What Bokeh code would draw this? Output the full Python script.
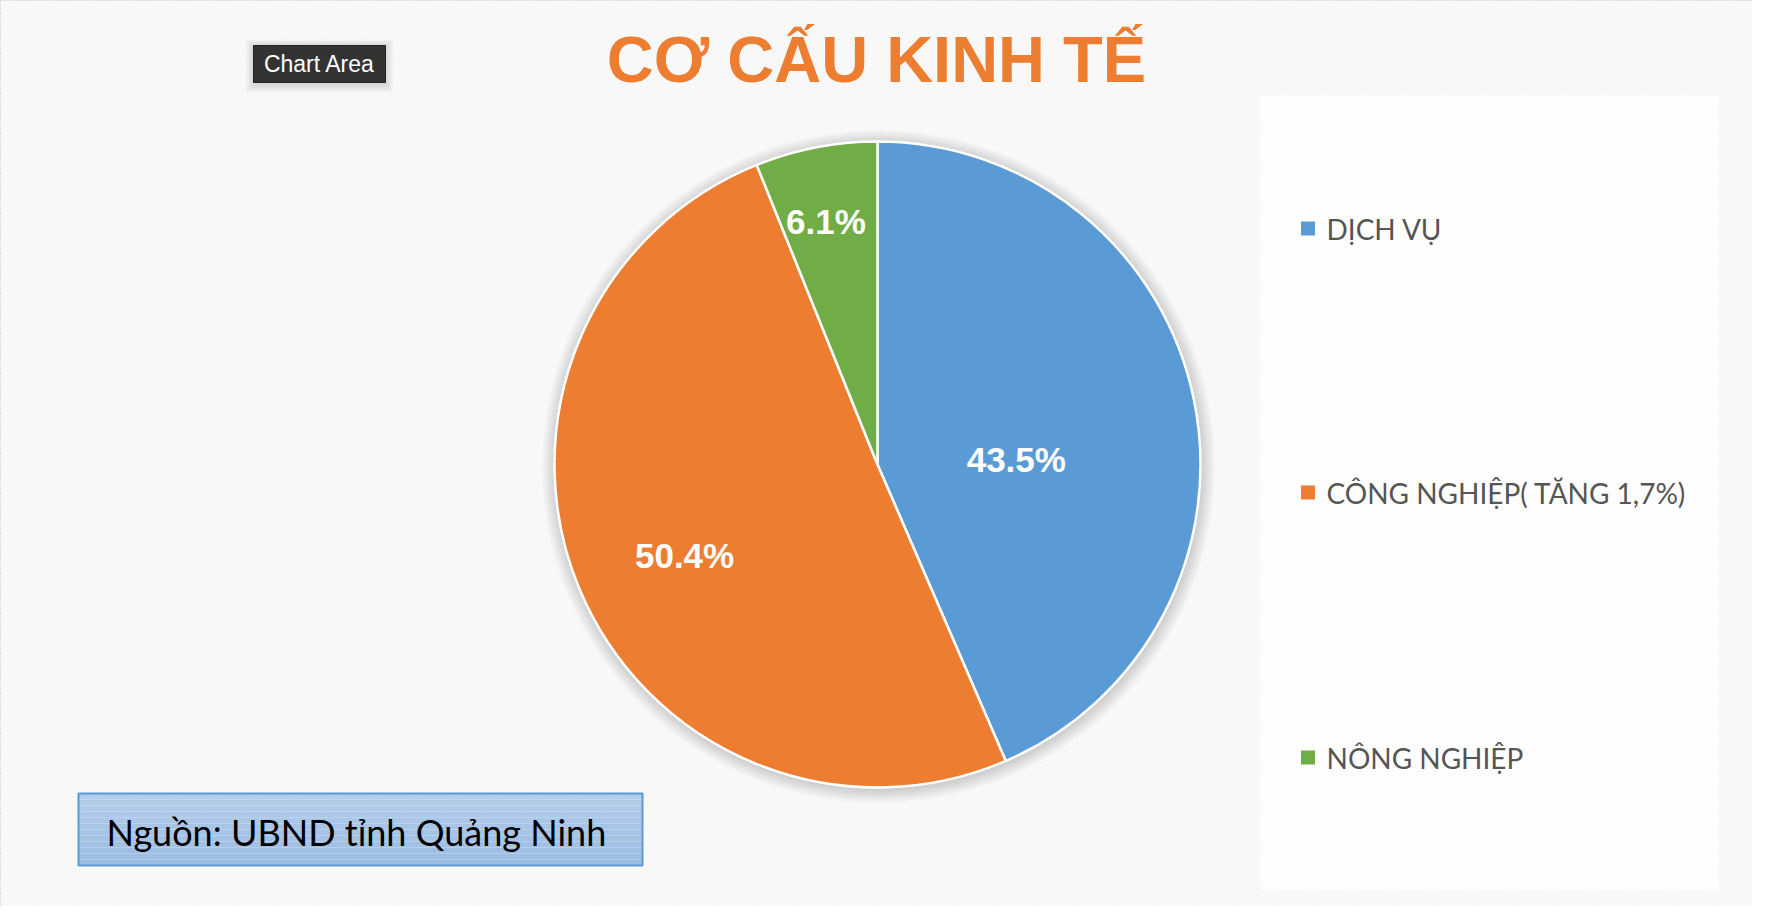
import numpy as np
from bokeh.plotting import figure
from bokeh.models import ColumnDataSource, Range1d
from bokeh.core.properties import value
from bokeh.embed import file_html
from bokeh.resources import INLINE

# ---------------- data ----------------
title_text = "CƠ CẤU KINH TẾ"
categories = ["DỊCH VỤ", "CÔNG NGHIỆP( TĂNG 1,7%)", "NÔNG NGHIỆP"]
shares = [43.5, 50.4, 6.1]
colors = ["#5B9BD5", "#ED7D31", "#70AD47"]
source_note = "Nguồn: UBND tỉnh Quảng Ninh"
tooltip_text = "Chart Area"

# ---------------- layout helpers (pixel -> data) ----------------
W, H = 1752, 906
def X(px):
    return px - 8
def Y(py):
    return H + 8 - py

p = figure(width=W, height=H, x_range=Range1d(0, W), y_range=Range1d(0, H),
           output_backend="svg", toolbar_location=None, min_border=0)
p.axis.visible = False
p.grid.visible = False
p.outline_line_color = "#D9D9D9"
p.outline_line_width = 3
p.background_fill_color = "white"
p.border_fill_color = "white"

# hatched chart-area background
p.quad(left=0, right=W, bottom=0, top=H, fill_color="white", line_color=None,
       hatch_pattern="left_diagonal_line", hatch_color="#F2F2F2",
       hatch_scale=5, hatch_weight=1.2)

# legend panel (lighter)
p.quad(left=X(1268), right=X(1726), bottom=Y(898), top=Y(103),
       fill_color="white", fill_alpha=0.8, line_color=None)

# ---------------- pie ----------------
cx, cy, R = X(885), Y(472), 323
# soft shadow
for k in range(14):
    p.circle(x=[cx + 1], y=[cy - 2], radius=R + 14 - k, fill_color="#000000",
             fill_alpha=0.011, line_color=None)

fr = np.array(shares) / sum(shares)
cum = np.concatenate([[0], np.cumsum(fr)])
start = np.pi / 2 - 2 * np.pi * cum[:-1]
end = np.pi / 2 - 2 * np.pi * cum[1:]
src = ColumnDataSource(dict(start=start, end=end, color=colors, cat=categories))
p.wedge(x=cx, y=cy, radius=R, start_angle="start", end_angle="end",
        direction="clock", fill_color="color", line_color="white",
        line_width=2.5, source=src)

# data labels
mid = (start + end) / 2
label_r = np.array([0.43, 0.66, 0.77]) * R
label_shift = np.radians([-9.5, 2.5, 1.0])
lx = cx + label_r * np.cos(mid + label_shift)
ly = cy + label_r * np.sin(mid + label_shift)
labels = [f"{v:.1f}%" for v in shares]
p.text(x=lx, y=ly, text=labels, text_align="center", text_baseline="middle",
       text_color="white", text_font=value("Liberation Sans"),
       text_font_style="bold", text_font_size="35px")

# ---------------- title ----------------
p.text(x=[X(884)], y=[Y(67)], text=[title_text], text_align="center",
       text_baseline="middle", text_color="#ED7D31",
       text_font=value("Liberation Sans"), text_font_style="bold",
       text_font_size="65px")

# ---------------- legend ----------------
leg_y = [Y(236), Y(500), Y(765)]
p.rect(x=[X(1315.5)] * 3, y=leg_y, width=14, height=14, fill_color=colors,
       line_color=None)
p.text(x=[X(1334)] * 3, y=leg_y, text=categories, text_align="left",
       text_baseline="middle", text_color="#555555",
       text_font=value("Lato"), text_font_size="28px")

# ---------------- source note box (gradient) ----------------
bx0, bx1, by0, by1 = 86, 650, 801, 873
nb = 12
c0 = np.array([0xB4, 0xCE, 0xEA])
c1 = np.array([0x9A, 0xBB, 0xE2])
edges = np.linspace(by0, by1, nb + 1)
band_cols = ["#%02x%02x%02x" % tuple(int(round(v)) for v in c0 + (c1 - c0) * (i + 0.5) / nb)
             for i in range(nb)]
p.quad(left=[X(bx0)] * nb, right=[X(bx1)] * nb, top=[Y(e) for e in edges[:-1]],
       bottom=[Y(e) for e in edges[1:]], fill_color=band_cols, line_color=None)
p.quad(left=X(bx0), right=X(bx1), top=Y(by0), bottom=Y(by1), fill_color=None,
       line_color="#5B9BD5", line_width=2)
p.text(x=[X(114)], y=[Y(839)], text=[source_note], text_align="left",
       text_baseline="middle", text_color="black", text_font=value("Lato"),
       text_font_size="36px")

# ---------------- "Chart Area" tooltip ----------------
for k in range(8):
    p.quad(left=X(261) - 8 + k, right=X(393) + 8 - k, top=Y(53) + 6 - k * 0.75,
           bottom=Y(90) - 10 + k, fill_color="black", fill_alpha=0.016,
           line_color=None)
p.quad(left=X(261), right=X(393), top=Y(53), bottom=Y(90), fill_color="#333333",
       line_color="#222222", line_width=1)
p.text(x=[X(327)], y=[Y(71.5)], text=[tooltip_text], text_align="center",
       text_baseline="middle", text_color="white",
       text_font=value("Liberation Sans"), text_font_size="23px")

open("out.html", "w").write(file_html(p, INLINE))
